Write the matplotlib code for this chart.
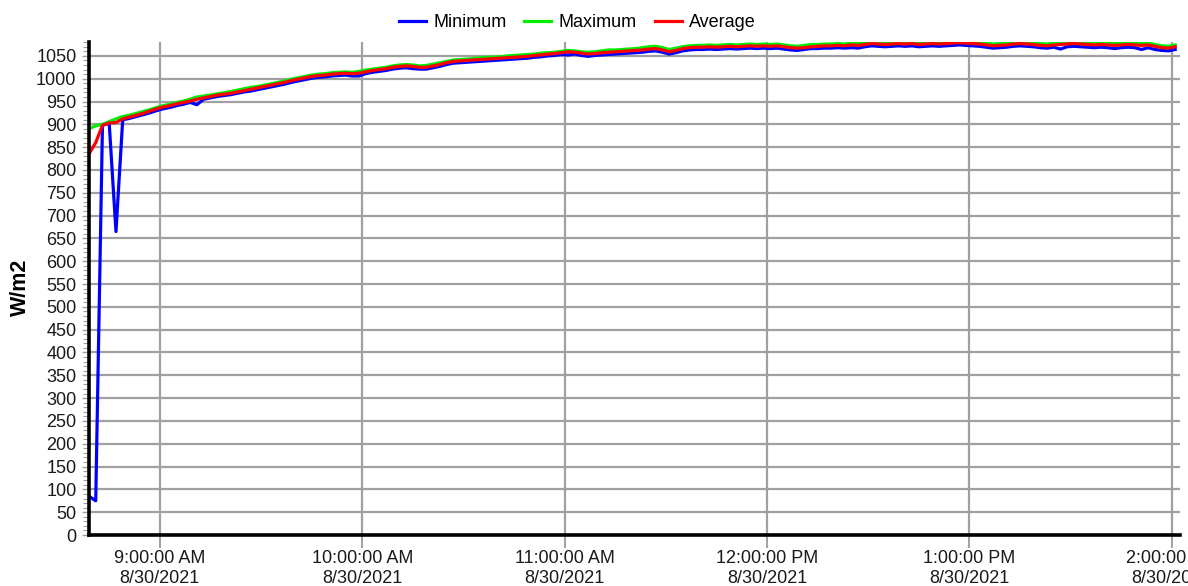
import datetime as dt
import matplotlib
matplotlib.use("Agg")
import matplotlib.pyplot as plt
import matplotlib.dates as mdates
from matplotlib.ticker import MultipleLocator, FuncFormatter

plt.rcParams['font.family'] = ['Liberation Sans', 'DejaVu Sans']

# samples every 2 minutes starting 8:39 AM, 8/30/2021
start_time = dt.datetime(2021, 8, 30, 8, 39)
step_minutes = 2

avg_vals = [
    835, 860, 898, 903, 904, 912, 916, 920, 924, 929,
    934, 938, 941, 945, 948, 951, 955, 958, 961, 964,
    966, 968, 971, 974, 977, 980, 983, 986, 989, 992,
    996, 999, 1002, 1005, 1007, 1008, 1010, 1011, 1012, 1011,
    1012, 1015, 1018, 1020, 1022, 1025, 1027, 1028, 1027, 1025,
    1025, 1028, 1031, 1035, 1038, 1039, 1040, 1041, 1042, 1043,
    1044, 1045, 1046, 1047, 1048, 1049, 1051, 1052, 1054, 1055,
    1057, 1059, 1058, 1056, 1054, 1055, 1057, 1058, 1059, 1060,
    1061, 1062, 1063, 1065, 1066, 1063, 1059, 1062, 1066, 1068,
    1069, 1069, 1070, 1069, 1070, 1071, 1070, 1071, 1072, 1071,
    1072, 1071, 1072, 1070, 1068, 1067, 1068, 1070, 1071, 1072,
    1072, 1073, 1072, 1074, 1073, 1075, 1077, 1076, 1075, 1076,
    1077, 1076, 1077, 1075, 1076, 1077, 1076, 1077, 1078, 1079,
    1078, 1077, 1076, 1074, 1072, 1073, 1074, 1076, 1077, 1076,
    1075, 1073, 1072, 1074, 1075, 1076, 1077, 1076, 1075, 1074,
    1075, 1074, 1073, 1074, 1075, 1074, 1073, 1074, 1071, 1068,
    1067, 1070,
]

max_vals = [
    890, 897, 900, 906, 912, 917, 920, 924, 928, 932,
    937, 941, 944, 948, 951, 955, 960, 962, 964, 967,
    969, 972, 975, 978, 981, 983, 986, 989, 992, 995,
    999, 1002, 1005, 1008, 1010, 1011, 1013, 1014, 1015, 1014,
    1016, 1019, 1021, 1023, 1025, 1028, 1030, 1031, 1030, 1028,
    1029, 1032, 1035, 1038, 1041, 1042, 1043, 1044, 1046, 1047,
    1047, 1048, 1050, 1051, 1052, 1053, 1054, 1056, 1057, 1058,
    1060, 1062, 1061, 1059, 1058, 1059, 1061, 1063, 1063, 1064,
    1065, 1066, 1068, 1070, 1071, 1068, 1064, 1067, 1070, 1072,
    1073, 1073, 1074, 1073, 1074, 1075, 1074, 1075, 1076, 1075,
    1076, 1075, 1076, 1074, 1072, 1071, 1073, 1075, 1075, 1076,
    1076, 1077, 1076, 1078, 1077, 1079, 1080, 1079, 1079, 1080,
    1080, 1079, 1080, 1079, 1080, 1080, 1079, 1080, 1080, 1080,
    1080, 1080, 1079, 1078, 1076, 1077, 1078, 1080, 1080, 1079,
    1079, 1077, 1076, 1078, 1079, 1080, 1080, 1079, 1079, 1078,
    1079, 1078, 1077, 1078, 1079, 1078, 1077, 1078, 1075, 1072,
    1071, 1074,
]

min_vals = [
    85, 75, 898, 902, 665, 910, 913, 917, 921, 925,
    930, 934, 937, 941, 944, 948, 943, 955, 958, 961,
    963, 965, 968, 971, 973, 976, 979, 982, 985, 988,
    992, 995, 998, 1001, 1003, 1004, 1006, 1007, 1008, 1006,
    1006, 1011, 1014, 1016, 1018, 1021, 1023, 1024, 1022, 1021,
    1021, 1024, 1027, 1031, 1034, 1035, 1036, 1037, 1038, 1039,
    1040, 1041, 1042, 1043, 1044, 1045, 1047, 1048, 1050, 1051,
    1053, 1052, 1054, 1051, 1049, 1051, 1052, 1053, 1054, 1055,
    1056, 1057, 1058, 1060, 1061, 1058, 1054, 1057, 1061, 1063,
    1064, 1064, 1065, 1064, 1065, 1066, 1065, 1066, 1067, 1066,
    1067, 1066, 1067, 1065, 1063, 1062, 1064, 1066, 1066, 1067,
    1067, 1068, 1067, 1068, 1067, 1070, 1072, 1071, 1070, 1071,
    1072, 1071, 1072, 1070, 1071, 1072, 1071, 1072, 1073, 1074,
    1073, 1072, 1071, 1069, 1067, 1068, 1069, 1071, 1072, 1071,
    1070, 1068, 1067, 1069, 1065, 1070, 1071, 1070, 1069, 1068,
    1069, 1068, 1066, 1068, 1069, 1068, 1064, 1068, 1064, 1062,
    1061, 1064,
]

times = [start_time + dt.timedelta(minutes=step_minutes * i) for i in range(len(avg_vals))]

fig = plt.figure(figsize=(11.88, 5.86), dpi=100)
ax = fig.add_axes([0.0749, 0.087, 0.9181, 0.841])

ax.plot(times, min_vals, color='#0000ff', lw=2.3, label='Minimum', zorder=3)
ax.plot(times, max_vals, color='#00ee00', lw=2.3, label='Maximum', zorder=4)
ax.plot(times, avg_vals, color='#ff0000', lw=2.3, label='Average', zorder=5)

ax.set_xlim(dt.datetime(2021, 8, 30, 8, 39), dt.datetime(2021, 8, 30, 14, 2, 20))
ax.set_ylim(0, 1080)

ax.yaxis.set_major_locator(MultipleLocator(50))
ax.yaxis.set_minor_locator(MultipleLocator(10))
ax.xaxis.set_major_locator(mdates.HourLocator())


def fmt_time(x, pos):
    d = mdates.num2date(x)
    hour = d.hour % 12 or 12
    ampm = 'AM' if d.hour < 12 else 'PM'
    return f"{hour}:{d.minute:02d}:{d.second:02d} {ampm}\n{d.month}/{d.day}/{d.year}"


ax.xaxis.set_major_formatter(FuncFormatter(fmt_time))

ax.grid(True, which='major', color='#a0a0a0', lw=1.6)
ax.set_axisbelow(True)

for side in ['top', 'right']:
    ax.spines[side].set_visible(False)
for side in ['left', 'bottom']:
    ax.spines[side].set_linewidth(2.6)
    ax.spines[side].set_color('black')
    ax.spines[side].set_zorder(6)

ax.tick_params(axis='y', which='major', length=5, width=1, color='#a0a0a0',
               labelsize=13, labelcolor='#1a1a1a', pad=4)
ax.tick_params(axis='y', which='minor', length=4, width=0.8, color='#a0a0a0')
ax.tick_params(axis='x', which='major', length=9, width=1.4, color='#a0a0a0',
               labelsize=13, labelcolor='#1a1a1a', pad=2)

for lbl in ax.get_xticklabels():
    lbl.set_linespacing(1.2)

ax.set_ylabel('W/m2', fontsize=15.5, fontweight='bold')
ax.yaxis.set_label_coords(-0.053, 0.503)

fig.legend(loc='upper center', bbox_to_anchor=(0.486, 1.004), ncol=3, frameon=False,
           fontsize=13, handlelength=1.5, columnspacing=1.0, handletextpad=0.4)

fig.savefig('out.png', dpi=100)
